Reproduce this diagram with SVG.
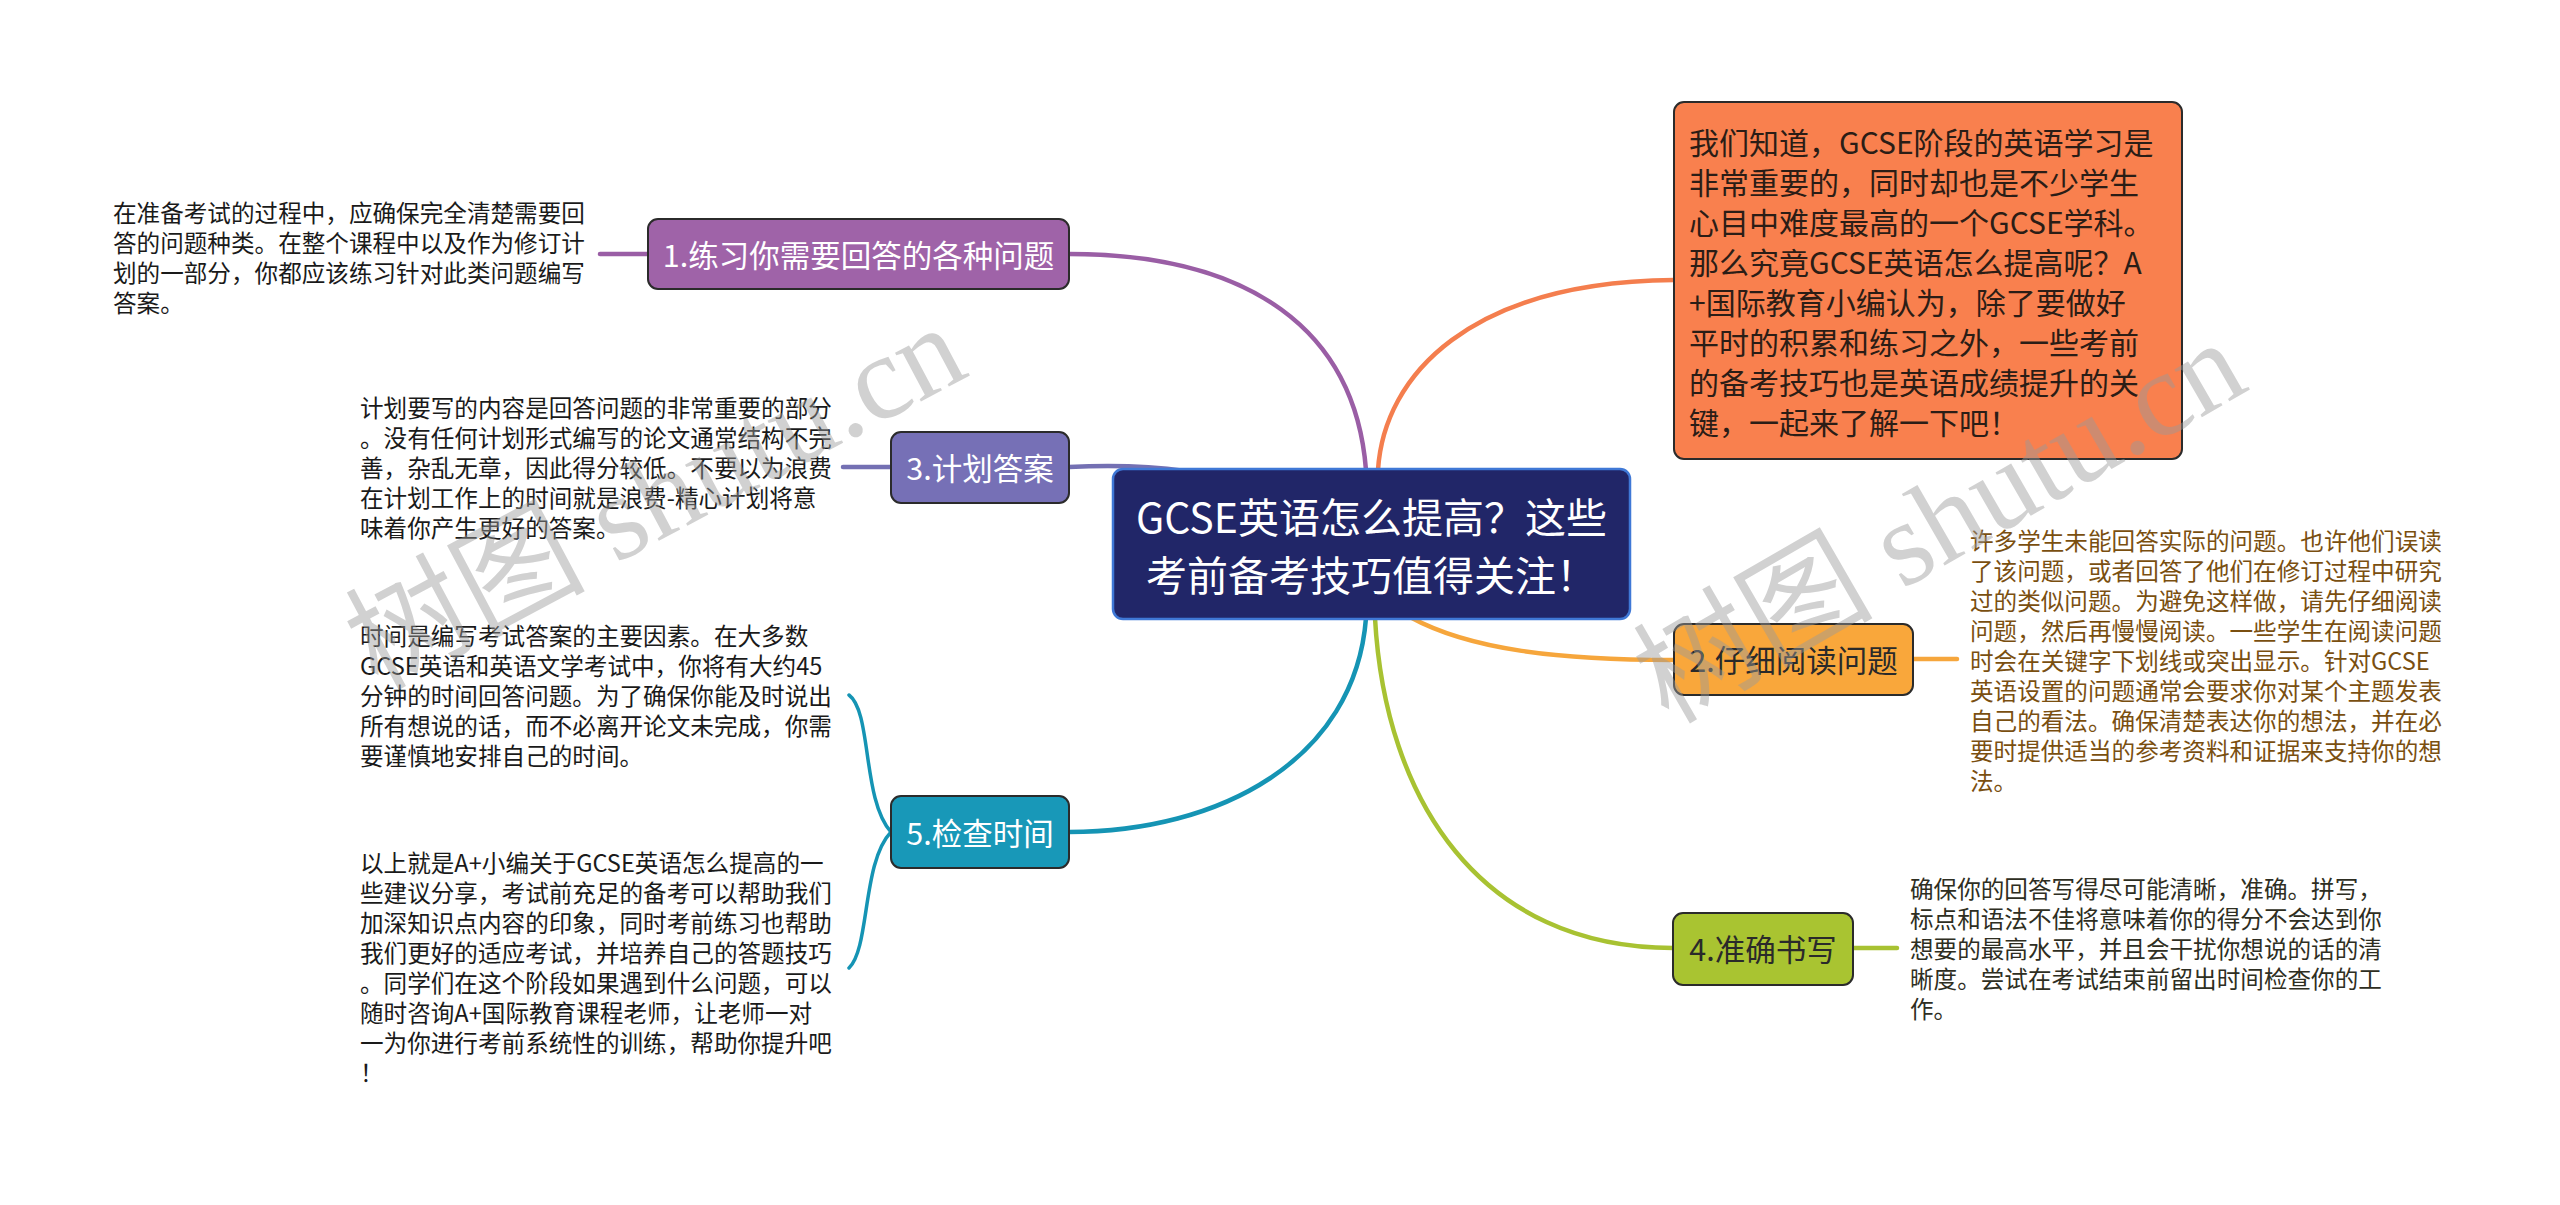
<svg xmlns="http://www.w3.org/2000/svg" width="2560" height="1205" viewBox="0 0 2560 1205">
<style>
text{font-family:"Noto Sans CJK SC","Microsoft YaHei",sans-serif;dominant-baseline:central}
.node{stroke:#2b2b2b;stroke-width:2}
.nt{font-size:30.5px;text-anchor:middle}
.w{fill:#ffffff}
.d{fill:#2a2a2a}
.desc{font-size:23.6px;fill:#1a1a1a}
.c{fill:none;stroke-width:4.5;stroke-linecap:round}
.wm{font-family:"Liberation Serif","Noto Sans CJK SC",serif;font-size:120px;fill:#9a9a9a;opacity:0.45}
</style>
<rect width="2560" height="1205" fill="#ffffff"/>

<g id="connectors">
<path class="c" stroke="#9a5ea5" d="M1069 254 C1250 254 1355 330 1366 470"/>
<path class="c" stroke="#7470b3" d="M1069 467 C1110 465 1150 466 1185 471"/>
<path class="c" stroke="#1594b4" d="M1069 832 C1220 832 1355 760 1366 618"/>
<path class="c" stroke="#f47e4e" d="M1378 470 C1384 375 1470 282 1674 280"/>
<path class="c" stroke="#f6a63c" d="M1410 617 C1470 650 1560 660 1673 660"/>
<path class="c" stroke="#a8c232" d="M1375 618 C1385 800 1480 948 1673 948"/>
<path class="c" stroke="#9a5ea5" d="M600 254 L648 254"/>
<path class="c" stroke="#7470b3" d="M843 467 L891 467"/>
<path class="c" stroke="#f6a63c" d="M1913 659 L1957 659"/>
<path class="c" stroke="#a8c232" d="M1853 948 L1897 948"/>
<path fill="none" stroke="#1594b4" stroke-width="3.5" stroke-linecap="round" d="M849 695 C872 712 862 800 891 832 C862 862 870 948 849 968"/>
</g>

<g id="center">
<rect x="1113" y="469" width="517" height="150" rx="10" fill="#212668" stroke="#3f78d6" stroke-width="2.5"/>
<text x="1371.5" y="515" font-size="41" text-anchor="middle" class="w">GCSE英语怎么提高？这些</text>
<text x="1371.5" y="573" font-size="41" text-anchor="middle" class="w">考前备考技巧值得关注！</text>
</g>

<g id="node-intro">
<rect class="node" x="1674" y="102" width="508" height="357" rx="10" fill="#f9804e"/>
<text x="1689" y="141" font-size="30" fill="#2b1d16">我们知道，GCSE阶段的英语学习是</text>
<text x="1689" y="181" font-size="30" fill="#2b1d16">非常重要的，同时却也是不少学生</text>
<text x="1689" y="221" font-size="30" fill="#2b1d16">心目中难度最高的一个GCSE学科。</text>
<text x="1689" y="261" font-size="30" fill="#2b1d16">那么究竟GCSE英语怎么提高呢？A</text>
<text x="1689" y="301" font-size="30" fill="#2b1d16">+国际教育小编认为，除了要做好</text>
<text x="1689" y="341" font-size="30" fill="#2b1d16">平时的积累和练习之外，一些考前</text>
<text x="1689" y="381" font-size="30" fill="#2b1d16">的备考技巧也是英语成绩提升的关</text>
<text x="1689" y="421" font-size="30" fill="#2b1d16">键，一起来了解一下吧！</text>
</g>

<g id="node1">
<rect class="node" x="648" y="219" width="421" height="70" rx="10" fill="#9f63a8"/>
<text class="nt w" x="858.5" y="254">1.练习你需要回答的各种问题</text>
</g>
<g id="desc1" class="desc">
<text x="113" y="212">在准备考试的过程中，应确保完全清楚需要回</text>
<text x="113" y="242">答的问题种类。在整个课程中以及作为修订计</text>
<text x="113" y="272">划的一部分，你都应该练习针对此类问题编写</text>
<text x="113" y="302">答案。</text>
</g>

<g id="node3">
<rect class="node" x="891" y="432" width="178" height="71" rx="10" fill="#7670b6"/>
<text class="nt w" x="980" y="467">3.计划答案</text>
</g>
<g id="desc3" class="desc">
<text x="360" y="407">计划要写的内容是回答问题的非常重要的部分</text>
<text x="360" y="437">。没有任何计划形式编写的论文通常结构不完</text>
<text x="360" y="467">善，杂乱无章，因此得分较低。不要以为浪费</text>
<text x="360" y="497">在计划工作上的时间就是浪费-精心计划将意</text>
<text x="360" y="527">味着你产生更好的答案。</text>
</g>

<g id="node5">
<rect class="node" x="891" y="796" width="178" height="72" rx="10" fill="#1898b8"/>
<text class="nt w" x="980" y="832">5.检查时间</text>
</g>
<g id="desc5a" class="desc">
<text x="360" y="635">时间是编写考试答案的主要因素。在大多数</text>
<text x="360" y="665">GCSE英语和英语文学考试中，你将有大约45</text>
<text x="360" y="695">分钟的时间回答问题。为了确保你能及时说出</text>
<text x="360" y="725">所有想说的话，而不必离开论文未完成，你需</text>
<text x="360" y="755">要谨慎地安排自己的时间。</text>
</g>
<g id="desc5b" class="desc">
<text x="360" y="862">以上就是A+小编关于GCSE英语怎么提高的一</text>
<text x="360" y="892">些建议分享，考试前充足的备考可以帮助我们</text>
<text x="360" y="922">加深知识点内容的印象，同时考前练习也帮助</text>
<text x="360" y="952">我们更好的适应考试，并培养自己的答题技巧</text>
<text x="360" y="982">。同学们在这个阶段如果遇到什么问题，可以</text>
<text x="360" y="1012">随时咨询A+国际教育课程老师，让老师一对</text>
<text x="360" y="1042">一为你进行考前系统性的训练，帮助你提升吧</text>
<text x="360" y="1072">！</text>
</g>

<g id="node2">
<rect class="node" x="1674" y="624" width="239" height="71" rx="10" fill="#f9a73b"/>
<text class="nt d" x="1793.5" y="659">2.仔细阅读问题</text>
</g>
<g id="desc2" class="desc" style="fill:#7a4f10">
<text x="1970" y="540">许多学生未能回答实际的问题。也许他们误读</text>
<text x="1970" y="570">了该问题，或者回答了他们在修订过程中研究</text>
<text x="1970" y="600">过的类似问题。为避免这样做，请先仔细阅读</text>
<text x="1970" y="630">问题，然后再慢慢阅读。一些学生在阅读问题</text>
<text x="1970" y="660">时会在关键字下划线或突出显示。针对GCSE</text>
<text x="1970" y="690">英语设置的问题通常会要求你对某个主题发表</text>
<text x="1970" y="720">自己的看法。确保清楚表达你的想法，并在必</text>
<text x="1970" y="750">要时提供适当的参考资料和证据来支持你的想</text>
<text x="1970" y="780">法。</text>
</g>

<g id="node4">
<rect class="node" x="1673" y="913" width="180" height="72" rx="10" fill="#a9c431"/>
<text class="nt d" x="1763" y="948">4.准确书写</text>
</g>
<g id="desc4" class="desc" style="fill:#2e2e22">
<text x="1910" y="888">确保你的回答写得尽可能清晰，准确。拼写，</text>
<text x="1910" y="918">标点和语法不佳将意味着你的得分不会达到你</text>
<text x="1910" y="948">想要的最高水平，并且会干扰你想说的话的清</text>
<text x="1910" y="978">晰度。尝试在考试结束前留出时间检查你的工</text>
<text x="1910" y="1008">作。</text>
</g>

<g id="watermarks">
<text class="wm" transform="translate(358,655) rotate(-28)">树图 shutu.cn</text>
<text class="wm" transform="translate(1648,690) rotate(-30)">树图 shutu.cn</text>
</g>
</svg>
